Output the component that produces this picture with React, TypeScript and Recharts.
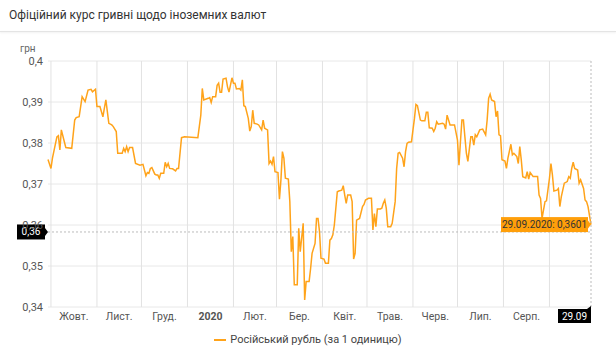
import {
  LineChart,
  Line,
  XAxis,
  YAxis,
  CartesianGrid,
  ReferenceLine,
  ReferenceDot,
} from "recharts";

// день 0 = 29.09.2019, останній день = 29.09.2020
const dayIndex = [
  0, 2, 3, 6, 7, 8, 9, 11, 12, 16, 18, 19, 21, 23, 25, 27, 29, 30, 32, 33, 35, 37, 38, 39, 41, 43, 44, 46, 47, 50,
  51, 52, 53, 54, 55, 57, 59, 62, 64, 66, 67, 68, 69, 70, 72, 73, 74, 75, 76, 78, 79, 80, 81, 82, 84, 86, 87, 88, 90, 92,
  101, 103, 104, 105, 108, 109, 110, 111, 113, 114, 115, 116, 117, 118, 120, 121, 122, 124, 125, 126, 127, 129, 130, 131, 132, 133, 135, 136, 137, 138,
  139, 141, 142, 144, 145, 146, 147, 148, 149, 150, 151, 152, 153, 155, 156, 157, 158, 159, 160, 162, 163, 164, 165, 166, 168, 169, 170, 172, 173, 174,
  176, 177, 178, 180, 181, 182, 183, 184, 186, 187, 189, 190, 191, 192, 193, 195, 196, 198, 199, 200, 201, 202, 204, 205, 206, 207, 208, 210, 212, 213,
  214, 216, 218, 219, 220, 221, 222, 224, 225, 226, 227, 228, 229, 231, 232, 234, 235, 236, 237, 239, 240, 241, 242, 243, 245, 246, 247, 248, 249, 251,
  252, 254, 255, 256, 257, 259, 260, 261, 262, 263, 266, 267, 268, 269, 271, 274, 276, 277, 278, 279, 280, 281, 282, 283, 285, 286, 287, 288, 289, 291,
  293, 295, 296, 297, 298, 299, 301, 302, 303, 304, 305, 306, 308, 309, 310, 312, 313, 314, 316, 317, 318, 319, 320, 322, 323, 324, 325, 327, 330, 331,
  332, 333, 335, 336, 338, 339, 340, 341, 343, 344, 345, 346, 348, 350, 351, 352, 353, 354, 355, 357, 358, 359, 361, 362, 363, 364, 366,
];

const rubRate = [
  0.376, 0.3738, 0.3763, 0.3815, 0.3818, 0.3783, 0.3832, 0.3803, 0.3789, 0.3787, 0.3856, 0.3862, 0.3864, 0.3913, 0.3901, 0.3929, 0.3931, 0.3925, 0.3931, 0.3889, 0.3889, 0.3864, 0.3885, 0.3905, 0.3848, 0.3844, 0.384, 0.3828, 0.3775, 0.3775,
  0.3787, 0.3779, 0.3791, 0.3779, 0.3789, 0.3789, 0.375, 0.3746, 0.3748, 0.372, 0.3728, 0.3726, 0.3738, 0.374, 0.3724, 0.3722, 0.3722, 0.3714, 0.3726, 0.3726, 0.3753, 0.3742, 0.375, 0.3738, 0.3737, 0.3732, 0.3738, 0.3738, 0.3813, 0.3815,
  0.3813, 0.3868, 0.3933, 0.3905, 0.3909, 0.3911, 0.3899, 0.3913, 0.3913, 0.3941, 0.3946, 0.3924, 0.3924, 0.3956, 0.3958, 0.3937, 0.3924, 0.3959, 0.3946, 0.3946, 0.3932, 0.3933, 0.3929, 0.3954, 0.3891, 0.3889, 0.386, 0.3829, 0.384, 0.388,
  0.3848, 0.3846, 0.3844, 0.3832, 0.3856, 0.3836, 0.3834, 0.3832, 0.375, 0.3756, 0.3748, 0.3767, 0.373, 0.3728, 0.3663, 0.371, 0.3779, 0.3763, 0.3714, 0.3712, 0.3657, 0.3535, 0.3572, 0.3454, 0.3454, 0.3592, 0.3535, 0.3604, 0.3417, 0.3462,
  0.3462, 0.3494, 0.3531, 0.3555, 0.3616, 0.3616, 0.3584, 0.3519, 0.3517, 0.3507, 0.3507, 0.3563, 0.3567, 0.3576, 0.36, 0.3681, 0.3683, 0.3685, 0.3696, 0.3673, 0.3653, 0.3673, 0.3673, 0.3657, 0.3517, 0.3531, 0.3612, 0.3616, 0.3645, 0.365,
  0.3661, 0.3665, 0.3665, 0.3588, 0.3628, 0.3596, 0.3639, 0.3639, 0.3641, 0.3653, 0.3661, 0.3641, 0.3596, 0.3596, 0.3604, 0.3657, 0.3738, 0.3775, 0.3777, 0.3763, 0.3742, 0.3779, 0.3799, 0.3802, 0.3803, 0.3832, 0.386, 0.3894, 0.3891, 0.3856,
  0.3854, 0.3854, 0.3875, 0.3875, 0.3837, 0.3836, 0.3828, 0.3836, 0.3852, 0.3846, 0.3848, 0.3846, 0.3834, 0.3868, 0.3844, 0.3844, 0.3807, 0.3746, 0.3803, 0.3856, 0.3856, 0.3815, 0.3775, 0.3755, 0.3815, 0.3815, 0.3795, 0.382, 0.3815, 0.3832,
  0.3834, 0.382, 0.3856, 0.3909, 0.3919, 0.3905, 0.3901, 0.3864, 0.3878, 0.382, 0.3818, 0.3759, 0.3756, 0.3738, 0.3763, 0.3797, 0.3771, 0.3775, 0.3767, 0.375, 0.3791, 0.3759, 0.3718, 0.3715, 0.373, 0.3712, 0.3728, 0.3718, 0.3718, 0.3673,
  0.3665, 0.3616, 0.3657, 0.3659, 0.3714, 0.375, 0.3722, 0.3683, 0.3685, 0.3689, 0.3645, 0.3669, 0.3702, 0.3706, 0.3718, 0.3714, 0.3738, 0.3753, 0.3738, 0.3734, 0.3702, 0.371, 0.3689, 0.3661, 0.3657, 0.3645, 0.3601,
];

const monthStarts = [2, 33, 63, 94, 125, 154, 185, 215, 246, 276, 307, 338];
const monthLabels = ["Жовт.", "Лист.", "Груд.", "2020", "Лют.", "Бер.", "Квіт.", "Трав.", "Черв.", "Лип.", "Серп."];
const yTicks = [0.34, 0.35, 0.36, 0.37, 0.38, 0.39, 0.4];

const lastDay = 366;
const lastDate = "29.09.2020";
const lastValue = 0.3601;
const cursorValue = 0.3583; // де стоїть курсор (горизонтальна пунктирна лінія)

const seriesName = "Російський рубль (за 1 одиницю)";
const title = "Офіційний курс гривні щодо іноземних валют";

const data = dayIndex.map((d, i) => ({ d, v: rubRate[i] }));
const labelDays = monthLabels.map((_, i) => (monthStarts[i] + monthStarts[i + 1]) / 2);

const ORANGE = "#ffa31a";
const GRID = "#e8e8e8";
const FONT = "Roboto, 'Noto Sans', sans-serif";

const fmt = (v: number) => String(Number(v.toFixed(2))).replace(".", ",");

function MonthTick(props: any) {
  const { x, y, payload, index } = props;
  const label = monthLabels[index];
  return (
    <text
      x={x}
      y={y}
      dy={9}
      textAnchor="middle"
      fontSize={10.5}
      fill="#555"
      fontWeight={label === "2020" ? 700 : 400}
    >
      {label ?? payload.value}
    </text>
  );
}

function YBadge(props: any) {
  const { x, y } = props.viewBox;
  const right = x - 3;
  return (
    <g>
      <rect x={right - 28} y={y - 7.5} width={28} height={15} fill="#000" />
      <path d={`M${right},${y - 4} L${right + 3},${y} L${right},${y + 4} Z`} fill="#000" />
      <text x={right - 14} y={y + 3.5} textAnchor="middle" fontSize={10} fill="#fff">
        {fmt(cursorValue)}
      </text>
    </g>
  );
}

function XBadge(props: any) {
  const { x, y, height } = props.viewBox;
  const top = y + height + 2;
  return (
    <g>
      <rect x={x - 33} y={top} width={33} height={14} fill="#000" />
      <path d={`M${x - 4},${top} L${x},${top - 3} L${x},${top} Z`} fill="#000" />
      <text x={x - 16.5} y={top + 10.5} textAnchor="middle" fontSize={10} fill="#fff">
        {lastDate.slice(0, 5)}
      </text>
    </g>
  );
}

function TipBox(props: any) {
  const { x, y, width, height } = props.viewBox;
  const cx = x + width / 2;
  const cy = y + height / 2;
  const right = cx - 3;
  return (
    <g>
      <rect x={right - 87} y={cy - 7.5} width={87} height={15} fill="#ff9f0a" />
      <path d={`M${right},${cy - 4} L${right + 3},${cy} L${right},${cy + 4} Z`} fill="#ff9f0a" />
      <text x={right - 43.5} y={cy + 3.5} textAnchor="middle" fontSize={10} fill="#333">
        {`${lastDate}: ${String(lastValue).replace(".", ",")}`}
      </text>
    </g>
  );
}

export default function App() {
  return (
    <div
      style={{
        position: "absolute",
        left: 0,
        top: 0,
        width: 616,
        height: 350,
        background: "#fff",
        fontFamily: FONT,
        overflow: "hidden",
      }}
    >
      <div style={{ position: "absolute", left: 9, top: 8, fontSize: 12, color: "#333" }}>{title}</div>
      <div
        style={{
          position: "absolute",
          left: 0,
          top: 31,
          width: 616,
          height: 1,
          background: "#e4e4e4",
          boxShadow: "0 1px 2px rgba(0,0,0,0.08)",
        }}
      />
      <div style={{ position: "absolute", left: 20, top: 43, fontSize: 10, color: "#666" }}>грн</div>

      <LineChart
        width={616}
        height={350}
        data={data}
        margin={{ top: 61, right: 25, bottom: 13, left: 8 }}
        style={{ fontFamily: FONT }}
      >
        <CartesianGrid stroke={GRID} strokeWidth={1} vertical={false} />
        <XAxis
          xAxisId="grid"
          dataKey="d"
          type="number"
          domain={[0, lastDay]}
          ticks={monthStarts}
          interval={0}
          height={0}
          axisLine={false}
          tickLine={false}
          tick={false}
        />
        <XAxis
          xAxisId="lbl"
          dataKey="d"
          type="number"
          domain={[0, lastDay]}
          ticks={labelDays}
          interval={0}
          axisLine={false}
          tickLine={false}
          tickSize={0}
          tickMargin={4}
          height={30}
          tick={<MonthTick />}
        />
        <YAxis
          domain={[0.34, 0.4]}
          ticks={yTicks}
          interval={0}
          width={40}
          axisLine={false}
          tickLine={false}
          tickSize={0}
          tickMargin={5}
          tickFormatter={fmt}
          tick={{ fontSize: 11, fill: "#555" }}
        />
        {monthStarts.map((d) => (
          <ReferenceLine
            key={`m-${d}`}
            xAxisId="grid"
            x={d}
            stroke="#e2e2e2"
            strokeWidth={1}
            ifOverflow="extendDomain"
          />
        ))}
        <Line
          xAxisId="grid"
          dataKey="v"
          type="linear"
          stroke={ORANGE}
          strokeWidth={1.5}
          dot={false}
          isAnimationActive={false}
        />
        <ReferenceLine
          xAxisId="grid"
          y={cursorValue}
          stroke="#bbb"
          strokeDasharray="2 2"
          label={(p: any) => <YBadge {...p} />}
        />
        <ReferenceLine
          xAxisId="grid"
          x={lastDay}
          stroke="#bbb"
          strokeDasharray="2 2"
          label={(p: any) => <XBadge {...p} />}
        />
        <ReferenceDot
          xAxisId="grid"
          x={lastDay}
          y={lastValue}
          r={0}
          stroke="none"
          label={(p: any) => <TipBox {...p} />}
        />
      </LineChart>

      <div
        style={{
          position: "absolute",
          left: 0,
          top: 333,
          width: 616,
          display: "flex",
          justifyContent: "center",
          alignItems: "center",
          fontSize: 11,
          color: "#444",
        }}
      >
        <span style={{ display: "inline-block", width: 12, height: 2, background: ORANGE, marginRight: 4 }} />
        {seriesName}
      </div>
    </div>
  );
}
